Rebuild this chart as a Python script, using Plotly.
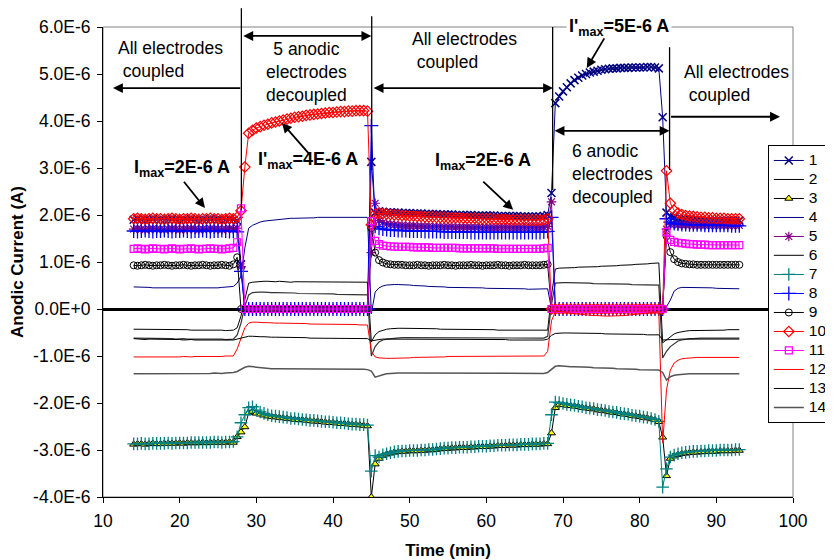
import plotly.graph_objects as go

# ---------------- data (currents in microamps, converted to A when plotted) ----------------
time = [14.0,14.5,15.0,15.5,16.0,16.5,17.0,17.5,18.0,18.5,
        19.0,19.5,20.0,20.5,21.0,21.5,22.0,22.5,23.0,23.5,
        24.0,24.5,25.0,25.5,26.0,26.5,27.0,27.5,
        28.0,28.5,
        29.0,29.5,30.0,30.5,31.0,31.5,32.0,32.5,33.0,33.5,
        34.0,34.5,35.0,35.5,36.0,36.5,37.0,37.5,38.0,38.5,
        39.0,39.5,40.0,40.5,41.0,41.5,42.0,42.5,43.0,43.5,
        44.0,44.5,
        45.0,45.5,
        46.0,46.5,47.0,47.5,48.0,48.5,49.0,49.5,50.0,50.5,
        51.0,51.5,52.0,52.5,53.0,53.5,54.0,54.5,55.0,55.5,
        56.0,56.5,57.0,57.5,58.0,58.5,59.0,59.5,60.0,60.5,
        61.0,61.5,62.0,62.5,63.0,63.5,64.0,64.5,65.0,65.5,
        66.0,66.5,67.0,67.5,68.0,
        68.5,69.0,
        69.5,70.0,70.5,71.0,71.5,72.0,72.5,73.0,73.5,74.0,
        74.5,75.0,75.5,76.0,76.5,77.0,77.5,78.0,78.5,79.0,
        79.5,80.0,80.5,81.0,81.5,82.0,82.5,
        83.0,83.5,
        84.0,84.5,85.0,85.5,86.0,86.5,87.0,87.5,88.0,88.5,
        89.0,89.5,90.0,90.5,91.0,91.5,92.0,92.5,93.0]

s1 = ([1.90,1.91,1.90,1.89,1.90,1.91,1.90,1.90,1.89,1.90,1.91,1.90,1.89,1.90,1.90,1.91,1.90,1.89,1.90,1.90,1.91,1.90,1.90,1.89,1.90,1.91,1.90,1.88]
      + [0.95,0]
      + [0,0,0,0,0,0,0,0,0,0,0,0,0,0,0,0,0,0,0,0,0,0,0,0,0,0,0,0,0,0,0,0]
      + [3.13,2.05]
      + [2.08,2.07,2.06,2.06,2.05,2.05,2.04,2.04,2.04,2.03,2.03,2.03,2.02,2.02,2.02,2.02,2.01,2.01,2.01,2.01,2.00,2.00,2.00,2.00,2.00,1.99,1.99,1.99,1.99,1.99,1.99,1.98,1.98,1.98,1.98,1.98,1.98,1.97,1.97,1.97,1.97,1.97,1.97,1.98,2.00]
      + [2.47,4.38]
      + [4.52,4.63,4.72,4.80,4.87,4.92,4.97,5.00,5.03,5.05,5.07,5.09,5.10,5.11,5.12,5.12,5.13,5.13,5.13,5.14,5.14,5.14,5.14,5.15,5.15,5.14,5.12]
      + [4.08,2.05]
      + [1.98,1.95,1.93,1.92,1.91,1.91,1.90,1.90,1.90,1.89,1.89,1.89,1.89,1.89,1.88,1.88,1.88,1.88,1.88])

s2 = ([-0.43,-0.43,-0.44,-0.43,-0.43,-0.44,-0.44,-0.43,-0.43,-0.44,-0.44,-0.44,-0.43,-0.44,-0.44,-0.45,-0.45,-0.44,-0.45,-0.45,-0.45,-0.45,-0.45,-0.45,-0.46,-0.46,-0.45,-0.40]
      + [-0.15,0.20]
      + [0.55,0.57,0.58,0.58,0.59,0.59,0.58,0.58,0.59,0.58,0.58,0.57,0.58,0.58,0.58,0.58,0.57,0.58,0.58,0.57,0.57,0.58,0.57,0.57,0.57,0.58,0.57,0.57,0.57,0.57,0.58,0.57]
      + [-0.70,-0.55]
      + [-0.48,-0.45,-0.43,-0.42,-0.41,-0.41,-0.41,-0.41,-0.41,-0.41,-0.42,-0.42,-0.42,-0.42,-0.42,-0.42,-0.43,-0.43,-0.43,-0.43,-0.43,-0.43,-0.43,-0.44,-0.44,-0.44,-0.44,-0.44,-0.44,-0.44,-0.44,-0.45,-0.45,-0.45,-0.45,-0.45,-0.45,-0.45,-0.45,-0.46,-0.46,-0.46,-0.46,-0.46,-0.45]
      + [0.30,0.85]
      + [0.87,0.87,0.88,0.88,0.88,0.89,0.89,0.89,0.90,0.90,0.90,0.91,0.91,0.91,0.92,0.92,0.93,0.93,0.94,0.94,0.95,0.95,0.96,0.96,0.97,0.97,0.98]
      + [-0.72,-0.65]
      + [-0.58,-0.53,-0.50,-0.48,-0.47,-0.46,-0.46,-0.45,-0.45,-0.45,-0.45,-0.45,-0.45,-0.45,-0.45,-0.44,-0.44,-0.44,-0.44])

s3 = ([-2.88,-2.87,-2.87,-2.88,-2.87,-2.86,-2.87,-2.87,-2.86,-2.86,-2.86,-2.86,-2.85,-2.86,-2.85,-2.85,-2.85,-2.85,-2.84,-2.85,-2.84,-2.84,-2.84,-2.84,-2.84,-2.83,-2.84,-2.72]
      + [-2.62,-2.51]
      + [-2.21,-2.18,-2.22,-2.24,-2.26,-2.28,-2.29,-2.30,-2.31,-2.32,-2.33,-2.34,-2.35,-2.36,-2.36,-2.37,-2.38,-2.39,-2.39,-2.40,-2.41,-2.42,-2.42,-2.43,-2.44,-2.44,-2.45,-2.46,-2.46,-2.47,-2.48,-2.49]
      + [-4.00,-3.30]
      + [-3.18,-3.12,-3.09,-3.07,-3.05,-3.04,-3.03,-3.03,-3.02,-3.02,-3.02,-3.01,-3.01,-3.00,-3.00,-2.99,-2.98,-2.97,-2.97,-2.96,-2.96,-2.95,-2.95,-2.95,-2.94,-2.94,-2.93,-2.93,-2.93,-2.92,-2.92,-2.91,-2.91,-2.91,-2.90,-2.90,-2.90,-2.89,-2.89,-2.89,-2.88,-2.88,-2.88,-2.87,-2.87]
      + [-2.64,-2.10]
      + [-2.03,-2.04,-2.05,-2.06,-2.07,-2.08,-2.10,-2.11,-2.12,-2.13,-2.15,-2.16,-2.17,-2.19,-2.20,-2.21,-2.23,-2.24,-2.25,-2.27,-2.28,-2.29,-2.31,-2.32,-2.34,-2.36,-2.40]
      + [-2.73,-3.55]
      + [-3.18,-3.13,-3.10,-3.08,-3.07,-3.06,-3.05,-3.05,-3.04,-3.04,-3.03,-3.03,-3.03,-3.02,-3.02,-3.02,-3.02,-3.01,-3.01])

s4 = ([0.47,0.47,0.46,0.46,0.46,0.45,0.45,0.45,0.45,0.45,0.45,0.45,0.44,0.44,0.44,0.44,0.44,0.45,0.45,0.45,0.45,0.45,0.45,0.46,0.47,0.47,0.48,0.55]
      + [0.70,1.30]
      + [1.72,1.78,1.82,1.85,1.87,1.88,1.89,1.90,1.91,1.92,1.92,1.93,1.93,1.93,1.94,1.94,1.94,1.94,1.95,1.95,1.95,1.95,1.95,1.96,1.96,1.96,1.96,1.96,1.96,1.96,1.96,1.95]
      + [-0.10,0.36]
      + [0.45,0.49,0.51,0.52,0.52,0.52,0.52,0.51,0.51,0.50,0.50,0.49,0.49,0.48,0.48,0.47,0.47,0.47,0.46,0.46,0.46,0.46,0.46,0.45,0.45,0.45,0.45,0.45,0.44,0.44,0.44,0.44,0.44,0.43,0.43,0.43,0.43,0.43,0.43,0.42,0.42,0.42,0.42,0.42,0.43]
      + [0,0]
      + [0,0,0,0,0,0,0,0,0,0,0,0,0,0,0,0,0,0,0,0,0,0,0,0,0,0,0]
      + [0,0.05]
      + [0.19,0.38,0.44,0.46,0.46,0.46,0.46,0.45,0.45,0.45,0.45,0.45,0.44,0.44,0.44,0.44,0.44,0.43,0.43])

s5 = ([1.70,1.71,1.70,1.69,1.70,1.71,1.70,1.70,1.69,1.70,1.71,1.70,1.69,1.70,1.70,1.71,1.70,1.69,1.70,1.70,1.71,1.70,1.70,1.69,1.70,1.71,1.70,1.72]
      + [0.90,0]
      + [0,0,0,0,0,0,0,0,0,0,0,0,0,0,0,0,0,0,0,0,0,0,0,0,0,0,0,0,0,0,0,0]
      + [1.20,2.25]
      + [1.88,1.84,1.81,1.80,1.79,1.78,1.78,1.77,1.77,1.77,1.76,1.76,1.76,1.76,1.75,1.75,1.75,1.75,1.75,1.75,1.74,1.74,1.74,1.74,1.74,1.74,1.74,1.73,1.73,1.73,1.73,1.73,1.73,1.73,1.73,1.73,1.73,1.73,1.73,1.73,1.73,1.73,1.73,1.74,1.76]
      + [2.28,0]
      + [0,0,0,0,0,0,0,0,0,0,0,0,0,0,0,0,0,0,0,0,0,0,0,0,0,0,0]
      + [0,1.70]
      + [1.80,1.80,1.79,1.79,1.79,1.79,1.78,1.78,1.78,1.78,1.78,1.78,1.78,1.78,1.78,1.78,1.78,1.78,1.78])

s6 = ([-0.62,-0.62,-0.63,-0.62,-0.62,-0.63,-0.63,-0.62,-0.63,-0.63,-0.63,-0.64,-0.63,-0.63,-0.64,-0.64,-0.63,-0.64,-0.64,-0.64,-0.64,-0.64,-0.64,-0.64,-0.65,-0.64,-0.64,-0.55]
      + [-0.30,0.05]
      + [0.30,0.35,0.36,0.36,0.36,0.35,0.35,0.35,0.35,0.34,0.34,0.34,0.34,0.33,0.33,0.33,0.33,0.33,0.32,0.32,0.32,0.32,0.32,0.31,0.31,0.31,0.31,0.31,0.30,0.30,0.30,0.30]
      + [-1.00,-0.80]
      + [-0.70,-0.66,-0.64,-0.63,-0.62,-0.62,-0.61,-0.61,-0.61,-0.61,-0.61,-0.61,-0.61,-0.61,-0.61,-0.61,-0.61,-0.62,-0.62,-0.62,-0.62,-0.62,-0.62,-0.62,-0.62,-0.62,-0.62,-0.62,-0.62,-0.62,-0.62,-0.62,-0.62,-0.62,-0.62,-0.62,-0.62,-0.62,-0.62,-0.62,-0.62,-0.62,-0.62,-0.62,-0.58]
      + [0.10,0.55]
      + [0.56,0.56,0.56,0.56,0.55,0.55,0.55,0.55,0.55,0.54,0.54,0.54,0.54,0.54,0.53,0.53,0.53,0.53,0.53,0.52,0.52,0.52,0.52,0.52,0.51,0.51,0.51]
      + [-1.04,-0.90]
      + [-0.80,-0.73,-0.68,-0.66,-0.64,-0.63,-0.63,-0.62,-0.62,-0.62,-0.62,-0.62,-0.62,-0.62,-0.62,-0.62,-0.62,-0.62,-0.62])

s7 = ([-2.87,-2.87,-2.86,-2.87,-2.87,-2.86,-2.86,-2.86,-2.86,-2.85,-2.86,-2.85,-2.85,-2.85,-2.85,-2.84,-2.84,-2.84,-2.84,-2.84,-2.84,-2.83,-2.83,-2.84,-2.83,-2.83,-2.82,-2.72]
      + [-2.42,-2.25]
      + [-2.10,-2.08,-2.15,-2.19,-2.22,-2.25,-2.27,-2.28,-2.29,-2.30,-2.31,-2.33,-2.33,-2.34,-2.35,-2.36,-2.37,-2.37,-2.38,-2.39,-2.40,-2.40,-2.41,-2.42,-2.42,-2.43,-2.44,-2.45,-2.45,-2.46,-2.46,-2.47]
      + [-3.45,-3.12]
      + [-3.15,-3.10,-3.08,-3.06,-3.04,-3.03,-3.02,-3.02,-3.01,-3.01,-3.01,-3.00,-3.00,-2.99,-2.99,-2.98,-2.97,-2.96,-2.96,-2.95,-2.95,-2.94,-2.94,-2.94,-2.93,-2.93,-2.92,-2.92,-2.92,-2.91,-2.91,-2.90,-2.90,-2.90,-2.89,-2.89,-2.89,-2.88,-2.88,-2.88,-2.87,-2.87,-2.87,-2.86,-2.86]
      + [-2.25,-1.98]
      + [-1.99,-2.01,-2.03,-2.04,-2.05,-2.07,-2.08,-2.10,-2.11,-2.12,-2.14,-2.15,-2.16,-2.18,-2.19,-2.20,-2.22,-2.23,-2.24,-2.26,-2.27,-2.28,-2.30,-2.31,-2.33,-2.35,-2.39]
      + [-3.79,-3.40]
      + [-3.15,-3.11,-3.08,-3.06,-3.05,-3.04,-3.03,-3.03,-3.02,-3.02,-3.01,-3.01,-3.01,-3.00,-3.00,-3.00,-3.00,-2.99,-2.99])

s8 = ([1.66,1.65,1.66,1.67,1.66,1.65,1.66,1.66,1.67,1.66,1.65,1.66,1.66,1.67,1.66,1.65,1.66,1.66,1.67,1.66,1.65,1.66,1.66,1.67,1.66,1.65,1.66,1.64]
      + [0.80,0]
      + [0,0,0,0,0,0,0,0,0,0,0,0,0,0,0,0,0,0,0,0,0,0,0,0,0,0,0,0,0,0,0,0]
      + [3.90,1.76]
      + [1.72,1.70,1.69,1.68,1.68,1.67,1.67,1.67,1.66,1.66,1.66,1.66,1.65,1.65,1.65,1.65,1.65,1.64,1.64,1.64,1.64,1.64,1.64,1.64,1.63,1.63,1.63,1.63,1.63,1.63,1.63,1.63,1.63,1.63,1.63,1.63,1.63,1.63,1.63,1.63,1.63,1.63,1.63,1.64,1.65]
      + [1.95,0]
      + [0,0,0,0,0,0,0,0,0,0,0,0,0,0,0,0,0,0,0,0,0,0,0,0,0,0,0]
      + [0,1.92]
      + [1.85,1.82,1.81,1.80,1.80,1.79,1.79,1.79,1.79,1.78,1.78,1.78,1.78,1.78,1.78,1.78,1.77,1.77,1.77])

s9 = ([0.93,0.92,0.93,0.94,0.93,0.92,0.93,0.93,0.94,0.93,0.92,0.93,0.93,0.94,0.93,0.92,0.93,0.93,0.94,0.93,0.92,0.93,0.93,0.94,0.93,0.92,0.95,1.10]
      + [0,0]
      + [0,0,0,0,0,0,0,0,0,0,0,0,0,0,0,0,0,0,0,0,0,0,0,0,0,0,0,0,0,0,0,0]
      + [1.72,1.20]
      + [1.04,0.99,0.96,0.95,0.94,0.94,0.94,0.93,0.93,0.93,0.94,0.93,0.93,0.92,0.93,0.93,0.93,0.94,0.93,0.93,0.92,0.93,0.93,0.93,0.94,0.93,0.93,0.92,0.93,0.93,0.93,0.94,0.93,0.93,0.92,0.93,0.93,0.93,0.94,0.93,0.93,0.93,0.93,0.94,0.95]
      + [0,0]
      + [0,0,0,0,0,0,0,0,0,0,0,0,0,0,0,0,0,0,0,0,0,0,0,0,0,0,0]
      + [0,1.55]
      + [1.21,1.06,1.00,0.97,0.96,0.95,0.95,0.94,0.94,0.94,0.94,0.94,0.94,0.94,0.94,0.94,0.94,0.94,0.94])

s10 = ([1.92,1.93,1.92,1.91,1.92,1.93,1.92,1.92,1.91,1.92,1.93,1.92,1.91,1.92,1.92,1.93,1.92,1.91,1.92,1.92,1.93,1.92,1.92,1.91,1.92,1.93,1.92,1.95]
       + [2.09,3.02]
       + [3.74,3.80,3.85,3.88,3.91,3.93,3.96,3.98,4.00,4.02,4.04,4.06,4.08,4.09,4.10,4.12,4.13,4.14,4.15,4.16,4.17,4.18,4.18,4.19,4.20,4.20,4.21,4.21,4.22,4.22,4.22,4.21]
       + [1.79,2.02]
       + [2.04,2.03,2.02,2.01,2.00,2.00,1.99,1.99,1.98,1.98,1.97,1.97,1.96,1.96,1.96,1.95,1.95,1.95,1.94,1.94,1.94,1.94,1.93,1.93,1.93,1.93,1.92,1.92,1.92,1.92,1.91,1.91,1.91,1.91,1.90,1.90,1.90,1.90,1.90,1.89,1.89,1.89,1.89,1.90,1.92]
       + [0,0]
       + [0,0,0,0,0,0,0,0,0,0,0,0,0,0,0,0,0,0,0,0,0,0,0,0,0,0,0]
       + [0,2.94]
       + [2.25,2.10,2.04,2.01,1.99,1.98,1.97,1.96,1.95,1.95,1.94,1.94,1.93,1.93,1.93,1.92,1.92,1.92,1.92])

s11 = ([1.28,1.29,1.28,1.27,1.28,1.29,1.28,1.28,1.27,1.28,1.29,1.28,1.27,1.28,1.28,1.29,1.28,1.27,1.28,1.28,1.29,1.28,1.28,1.27,1.28,1.29,1.30,1.42]
       + [2.14,0]
       + [0,0,0,0,0,0,0,0,0,0,0,0,0,0,0,0,0,0,0,0,0,0,0,0,0,0,0,0,0,0,0,0]
       + [1.87,1.45]
       + [1.38,1.35,1.34,1.33,1.33,1.32,1.32,1.32,1.32,1.31,1.31,1.31,1.31,1.31,1.30,1.30,1.30,1.30,1.30,1.30,1.30,1.29,1.29,1.29,1.29,1.29,1.29,1.29,1.29,1.29,1.29,1.28,1.28,1.28,1.28,1.28,1.28,1.28,1.28,1.28,1.28,1.28,1.28,1.29,1.30]
       + [0,0]
       + [0,0,0,0,0,0,0,0,0,0,0,0,0,0,0,0,0,0,0,0,0,0,0,0,0,0,0]
       + [0,1.64]
       + [1.47,1.43,1.41,1.40,1.39,1.38,1.38,1.37,1.37,1.37,1.36,1.36,1.36,1.36,1.36,1.36,1.36,1.36,1.36])

s12 = ([-1.02,-1.02,-1.03,-1.02,-1.02,-1.03,-1.03,-1.02,-1.02,-1.02,-1.03,-1.02,-1.02,-1.01,-1.02,-1.02,-1.01,-1.01,-1.02,-1.01,-1.01,-1.01,-1.01,-1.01,-1.00,-1.00,-1.00,-0.85]
       + [-0.62,-0.40]
       + [-0.30,-0.28,-0.28,-0.29,-0.29,-0.29,-0.30,-0.30,-0.30,-0.30,-0.30,-0.31,-0.31,-0.31,-0.31,-0.31,-0.32,-0.32,-0.32,-0.32,-0.32,-0.32,-0.33,-0.33,-0.33,-0.33,-0.33,-0.33,-0.33,-0.34,-0.34,-0.34]
       + [-0.90,-1.02]
       + [-1.04,-1.05,-1.05,-1.05,-1.05,-1.04,-1.04,-1.04,-1.04,-1.03,-1.03,-1.03,-1.03,-1.02,-1.02,-1.02,-1.02,-1.02,-1.01,-1.01,-1.01,-1.01,-1.01,-1.00,-1.00,-1.00,-1.00,-1.00,-1.00,-1.00,-1.00,-1.00,-1.00,-1.00,-1.00,-1.00,-1.00,-1.00,-1.00,-1.00,-1.00,-1.00,-1.00,-1.00,-0.90]
       + [-0.25,-0.06]
       + [-0.05,-0.06,-0.08,-0.09,-0.10,-0.11,-0.12,-0.13,-0.13,-0.14,-0.14,-0.15,-0.15,-0.15,-0.15,-0.15,-0.14,-0.14,-0.13,-0.12,-0.11,-0.10,-0.09,-0.08,-0.07,-0.06,-0.06]
       + [-2.85,-1.72]
       + [-1.30,-1.15,-1.09,-1.06,-1.05,-1.04,-1.04,-1.03,-1.03,-1.03,-1.03,-1.03,-1.03,-1.03,-1.03,-1.03,-1.03,-1.03,-1.03])

s13 = ([-0.63,-0.64,-0.64,-0.65,-0.64,-0.64,-0.65,-0.65,-0.64,-0.65,-0.65,-0.65,-0.65,-0.66,-0.65,-0.65,-0.66,-0.66,-0.65,-0.66,-0.66,-0.66,-0.66,-0.66,-0.66,-0.66,-0.66,-0.64]
       + [-0.62,-0.60]
       + [-0.58,-0.58,-0.59,-0.59,-0.59,-0.60,-0.60,-0.60,-0.60,-0.60,-0.61,-0.61,-0.61,-0.61,-0.61,-0.61,-0.62,-0.62,-0.62,-0.62,-0.62,-0.62,-0.62,-0.62,-0.63,-0.63,-0.63,-0.63,-0.63,-0.63,-0.63,-0.63]
       + [-0.68,-0.66]
       + [-0.65,-0.64,-0.64,-0.64,-0.64,-0.64,-0.64,-0.64,-0.64,-0.64,-0.64,-0.64,-0.64,-0.64,-0.64,-0.65,-0.65,-0.65,-0.65,-0.65,-0.65,-0.65,-0.65,-0.65,-0.65,-0.65,-0.65,-0.65,-0.65,-0.65,-0.65,-0.65,-0.65,-0.65,-0.66,-0.66,-0.66,-0.66,-0.66,-0.66,-0.66,-0.66,-0.66,-0.66,-0.64]
       + [-0.56,-0.52]
       + [-0.51,-0.51,-0.51,-0.51,-0.51,-0.52,-0.52,-0.52,-0.52,-0.52,-0.52,-0.52,-0.53,-0.53,-0.53,-0.53,-0.53,-0.53,-0.54,-0.54,-0.54,-0.54,-0.54,-0.55,-0.55,-0.55,-0.55]
       + [-0.66,-0.65]
       + [-0.65,-0.65,-0.64,-0.64,-0.64,-0.64,-0.64,-0.64,-0.64,-0.64,-0.64,-0.64,-0.64,-0.64,-0.64,-0.64,-0.64,-0.64,-0.64])

s14 = ([-1.38,-1.38,-1.37,-1.38,-1.38,-1.37,-1.37,-1.38,-1.38,-1.37,-1.37,-1.38,-1.37,-1.37,-1.37,-1.38,-1.37,-1.37,-1.37,-1.37,-1.37,-1.36,-1.37,-1.37,-1.36,-1.36,-1.35,-1.33]
       + [-1.28,-1.24]
       + [-1.22,-1.23,-1.24,-1.25,-1.26,-1.26,-1.27,-1.27,-1.27,-1.28,-1.28,-1.28,-1.28,-1.28,-1.28,-1.28,-1.28,-1.28,-1.28,-1.28,-1.28,-1.28,-1.28,-1.28,-1.28,-1.28,-1.28,-1.28,-1.28,-1.28,-1.28,-1.29]
       + [-1.32,-1.45]
       + [-1.42,-1.40,-1.38,-1.37,-1.37,-1.36,-1.36,-1.36,-1.36,-1.36,-1.36,-1.36,-1.36,-1.36,-1.36,-1.36,-1.36,-1.36,-1.36,-1.37,-1.37,-1.37,-1.37,-1.37,-1.37,-1.37,-1.37,-1.37,-1.37,-1.37,-1.37,-1.37,-1.37,-1.37,-1.37,-1.37,-1.37,-1.37,-1.37,-1.37,-1.37,-1.37,-1.37,-1.37,-1.35]
       + [-1.28,-1.22]
       + [-1.21,-1.22,-1.22,-1.23,-1.23,-1.23,-1.24,-1.24,-1.24,-1.25,-1.25,-1.25,-1.26,-1.26,-1.26,-1.27,-1.27,-1.27,-1.28,-1.28,-1.28,-1.29,-1.29,-1.29,-1.30,-1.30,-1.30]
       + [-1.35,-1.51]
       + [-1.44,-1.41,-1.40,-1.39,-1.39,-1.38,-1.38,-1.38,-1.38,-1.38,-1.38,-1.38,-1.38,-1.38,-1.38,-1.38,-1.38,-1.38,-1.38])

y_tick_vals = [-4e-6, -3e-6, -2e-6, -1e-6, 0, 1e-6, 2e-6, 3e-6, 4e-6, 5e-6, 6e-6]
y_tick_text = ["-4.0E-6", "-3.0E-6", "-2.0E-6", "-1.0E-6", "0.0E+0", "1.0E-6", "2.0E-6",
               "3.0E-6", "4.0E-6", "5.0E-6", "6.0E-6"]

# ---------------- styles ----------------
FONT = "Arial, Liberation Sans, sans-serif"
series = [
    ("1", s1, "lines+markers", dict(color="#000080", width=1), dict(symbol="x-thin", size=8, color="#000080", line=dict(width=1.5, color="#000080"))),
    ("2", s2, "lines", dict(color="#000000", width=1), None),
    ("3", s3, "lines+markers", dict(color="#000000", width=1), dict(symbol="triangle-up", size=7, color="#FFFF00", line=dict(width=1, color="#000000"))),
    ("4", s4, "lines", dict(color="#000080", width=1), None),
    ("5", s5, "lines+markers", dict(color="#800080", width=1), dict(symbol="asterisk", size=8, color="#800080", line=dict(width=1.2, color="#800080"))),
    ("6", s6, "lines", dict(color="#333333", width=1.2), None),
    ("7", s7, "lines+markers", dict(color="#008080", width=1), dict(symbol="cross-thin", size=9, color="#008080", line=dict(width=1.3, color="#008080"))),
    ("8", s8, "lines+markers", dict(color="#0000FF", width=1), dict(symbol="cross-thin", size=10, color="#0000FF", line=dict(width=1.3, color="#0000FF"))),
    ("9", s9, "lines+markers", dict(color="#000000", width=1), dict(symbol="circle-open", size=7, color="#000000", line=dict(width=1))),
    ("10", s10, "lines+markers", dict(color="#FF0000", width=1), dict(symbol="diamond-open", size=8, color="#FF0000", line=dict(width=1.2))),
    ("11", s11, "lines+markers", dict(color="#FF00FF", width=1), dict(symbol="square-open", size=7, color="#FF00FF", line=dict(width=1.2))),
    ("12", s12, "lines", dict(color="#FF0000", width=1), None),
    ("13", s13, "lines", dict(color="#000000", width=1), None),
    ("14", s14, "lines", dict(color="#555555", width=1.5), None),
]

bad = [(n, len(v)) for n, v, *_ in series if len(v) != len(time)]
if bad:
    raise SystemExit("length mismatch: %s (time=%d)" % (bad, len(time)))

fig = go.Figure()
for name, vals, mode, line, marker in series:
    # legend text drawn at 15.5px inside a compact (11px-spaced) legend;
    # a transparent trailing glyph reserves the extra width of the larger digits
    label = ('<span style="font-size:15.5px">%s</span>'
             '<span style="color:rgba(0,0,0,0)">0</span>' % name)
    kw = dict(x=time, y=[v * 1e-6 for v in vals], mode=mode, line=line, name=label)
    if marker:
        kw["marker"] = marker
    fig.add_trace(go.Scatter(**kw))

# ---------------- annotations ----------------
def txt(x, y, text, xanchor="left", align="left", size=17.5, bg=None):
    d = dict(x=x, y=y * 1e-6, xref="x", yref="y", text=text, showarrow=False,
             xanchor=xanchor, yanchor="middle", align=align,
             font=dict(family=FONT, size=size, color="black"))
    if bg:
        d["bgcolor"] = bg
        d["borderpad"] = 2
    return d

def arrow(x, y, ax, ay, both=False):
    return dict(x=x, y=y * 1e-6, ax=ax, ay=ay * 1e-6, xref="x", yref="y", axref="x", ayref="y",
                text="", showarrow=True, arrowhead=2, arrowsize=1.1, arrowwidth=1.8,
                arrowcolor="black", arrowside="end+start" if both else "end",
                standoff=0, startstandoff=0, startarrowhead=2, startarrowsize=1.1)

ann = [
    txt(11.7, 5.30, "All electrodes<br>\u00a0coupled"),
    txt(36.6, 5.04, "5 anodic<br>electrodes<br>decoupled", xanchor="center", align="center"),
    txt(50.0, 5.49, "All electrodes<br>\u00a0coupled"),
    txt(70.9, 2.87, "6 anodic<br>electrodes<br>decoupled"),
    txt(85.5, 4.79, "All electrodes<br>\u00a0coupled"),
    txt(77.3, 6.0, "<b>I'<sub>max</sub>=5E-6 A</b>", xanchor="center", size=18, bg="white"),
    txt(20.3, 3.0, "<b>I<sub>max</sub>=2E-6 A</b>", xanchor="center", size=18),
    txt(36.7, 3.17, "<b>I'<sub>max</sub>=4E-6 A</b>", xanchor="center", size=18),
    txt(59.6, 3.13, "<b>I<sub>max</sub>=2E-6 A</b>", xanchor="center", size=18),
    arrow(11.3, 4.70, 28.1, 4.70),
    arrow(45.0, 5.81, 28.1, 5.81, both=True),
    arrow(68.7, 4.70, 45.1, 4.70, both=True),
    arrow(83.9, 3.79, 68.7, 3.79, both=True),
    arrow(98.3, 4.09, 83.9, 4.09),
    arrow(23.3, 2.15, 20.4, 2.74),
    arrow(33.35, 3.96, 37.0, 3.28),
    arrow(63.5, 2.11, 59.4, 2.74),
    arrow(73.1, 5.13, 75.5, 5.79),
]

shapes = [
    dict(type="rect", xref="paper", yref="paper", x0=0, x1=1, y0=0, y1=1,
         line=dict(color="#808080", width=1), layer="below"),
]
for xv, y0, y1 in [(28.05, 0.61, 1.040), (45.05, 0.696, 1.023), (68.65, 0.653, 1.0), (83.9, 0.696, 0.957)]:
    shapes.append(dict(type="line", xref="x", yref="paper", x0=xv, x1=xv, y0=y0, y1=y1,
                       line=dict(color="black", width=1.3)))

# the page body adds an 8px offset; margins are reduced by 8px so the plot sits where the reference has it
fig.update_layout(
    width=833, height=552,
    margin=dict(l=95, r=48, t=19, b=63, autoexpand=False),
    paper_bgcolor="white", plot_bgcolor="white",
    font=dict(family=FONT, size=17, color="black"),
    showlegend=True,
    legend=dict(x=0.9635, y=0.749, xanchor="left", yanchor="top",
                bgcolor="white", bordercolor="black", borderwidth=1,
                font=dict(family=FONT, size=11), itemwidth=30, tracegroupgap=0),
    xaxis=dict(range=[10, 100], dtick=10, tick0=0, showgrid=False, zeroline=False,
               showline=True, linecolor="black", linewidth=1,
               ticks="outside", ticklen=5, tickcolor="black", ticklabelstandoff=3,
               tickfont=dict(family=FONT, size=17.5), automargin=False,
               title=dict(text="<b>Time (min)</b>", font=dict(family=FONT, size=17), standoff=16)),
    yaxis=dict(range=[-4e-6, 6e-6], tickvals=y_tick_vals, ticktext=y_tick_text,
               showgrid=False, zeroline=True, zerolinecolor="black", zerolinewidth=3,
               showline=True, linecolor="black", linewidth=1,
               ticks="outside", ticklen=5, tickcolor="black", ticklabelstandoff=3,
               tickfont=dict(family=FONT, size=17.5), automargin=False,
               title=dict(text="<b>Anodic Current (A)</b>", font=dict(family=FONT, size=17), standoff=6)),
    annotations=ann,
    shapes=shapes,
)

fig.write_html("out.html")
